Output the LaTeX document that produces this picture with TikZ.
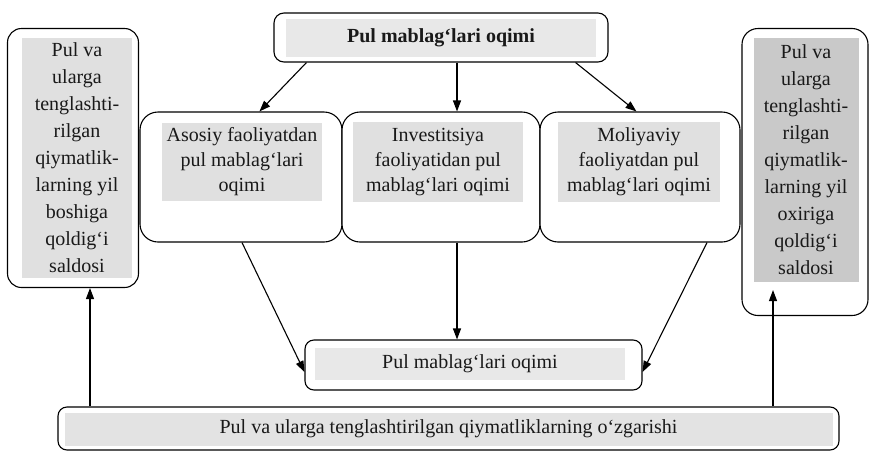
\documentclass[tikz,border=0pt]{standalone}
\usepackage{fontspec}
\setmainfont{Liberation Serif}
\usetikzlibrary{arrows.meta,calc}
\tikzset{
  box/.style={draw=black, line width=1.1pt, fill=white, rounded corners=#1, inner sep=0pt},
  box/.default=14pt,
  shade/.style={fill=gray!24, inner sep=0pt, align=center, text=black!90,
    font=\fontsize{20}{25}\selectfont},
  sideshade/.style={shade, font=\fontsize{20}{27}\selectfont},
  arr/.style={line width=1.1pt, -{Triangle[length=11pt,width=8pt]}},
}
\begin{document}
\begin{tikzpicture}[x=1pt,y=-1pt]
\useasboundingbox (0,0) rectangle (870,453);
\fill[white] (0,0) rectangle (870,453);

% boxes
\node[box=14pt, minimum width=131pt, minimum height=259pt] (left) at (73,158) {};
\node[box=16pt, minimum width=126pt, minimum height=287pt] (right) at (805,172) {};
\node[box=10pt, minimum width=334pt, minimum height=49pt] (top) at (441,37.5) {};
\node[box=18pt, minimum width=202pt, minimum height=130pt] (aso) at (241,177) {};
\node[box=18pt, minimum width=198pt, minimum height=130pt] (inv) at (441,177) {};
\node[box=18pt, minimum width=200pt, minimum height=130pt] (mol) at (640,177) {};
\node[box=9pt, minimum width=337pt, minimum height=50pt] (bm) at (473.5,365) {};
\node[box=9pt, minimum width=781pt, minimum height=43pt] (bot) at (448.5,428.5) {};

% shaded texts
\node[sideshade, minimum width=110pt, minimum height=240pt] (lefttext) at (77,158)
  {Pul va\\ularga\\tenglashti-\\rilgan\\qiymatlik-\\larning yil\\boshiga\\qoldig‘i\\saldosi};
\node[sideshade, fill=gray!42, minimum width=105pt, minimum height=244pt] (righttext) at (806,160)
  {Pul va\\ularga\\tenglashti-\\rilgan\\qiymatlik-\\larning yil\\oxiriga\\qoldig‘i\\saldosi};
\node[shade, fill=gray!18, minimum width=310pt, minimum height=38pt, font=\fontsize{20}{25}\selectfont\bfseries] (toptext) at (top) {Pul mablag‘lari oqimi};
\node[shade, minimum width=160pt, minimum height=78pt] (asotext) at (242,162)
  {Asosiy faoliyatdan\\pul mablag‘lari\\oqimi};
\node[shade, minimum width=170pt, minimum height=80pt] (invtext) at (438,162)
  {Investitsiya\\faoliyatidan pul\\mablag‘lari oqimi};
\node[shade, minimum width=162pt, minimum height=80pt] (moltext) at (639,162)
  {Moliyaviy\\faoliyatdan pul\\mablag‘lari oqimi};
\node[shade, fill=gray!18, minimum width=310pt, minimum height=32pt] (bmtext) at (470,364)
  {Pul mablag‘lari oqimi};
\node[shade, fill=gray!22, minimum width=768pt, minimum height=33pt] (bottext) at (448.5,429)
  {Pul va ularga tenglashtirilgan qiymatliklarning o‘zgarishi};

% connectors
\draw[arr] ([xshift=33pt]top.south west) -- ([xshift=120pt]aso.north west);
\draw[arr] ([xshift=16pt]top.south) -- ([xshift=16pt]top.south |- inv.north);
\draw[arr] ([xshift=-33pt]top.south east) -- ([xshift=97pt]mol.north west);
\draw[arr] ([xshift=1pt]aso.south) -- ([yshift=-7pt]bm.west);
\draw[arr] ([xshift=16pt]inv.south) -- ([xshift=16pt]inv.south |- bm.north);
\draw[arr] ([xshift=67pt]mol.south) -- ([yshift=-7pt]bm.east);
\draw[arr] ([xshift=17pt]left.south |- bot.north) -- ([xshift=17pt]left.south);
\draw[arr] ([xshift=-32pt]right.south |- bot.north) -- ([xshift=-32pt,yshift=26pt]right.south);
\end{tikzpicture}
\end{document}
